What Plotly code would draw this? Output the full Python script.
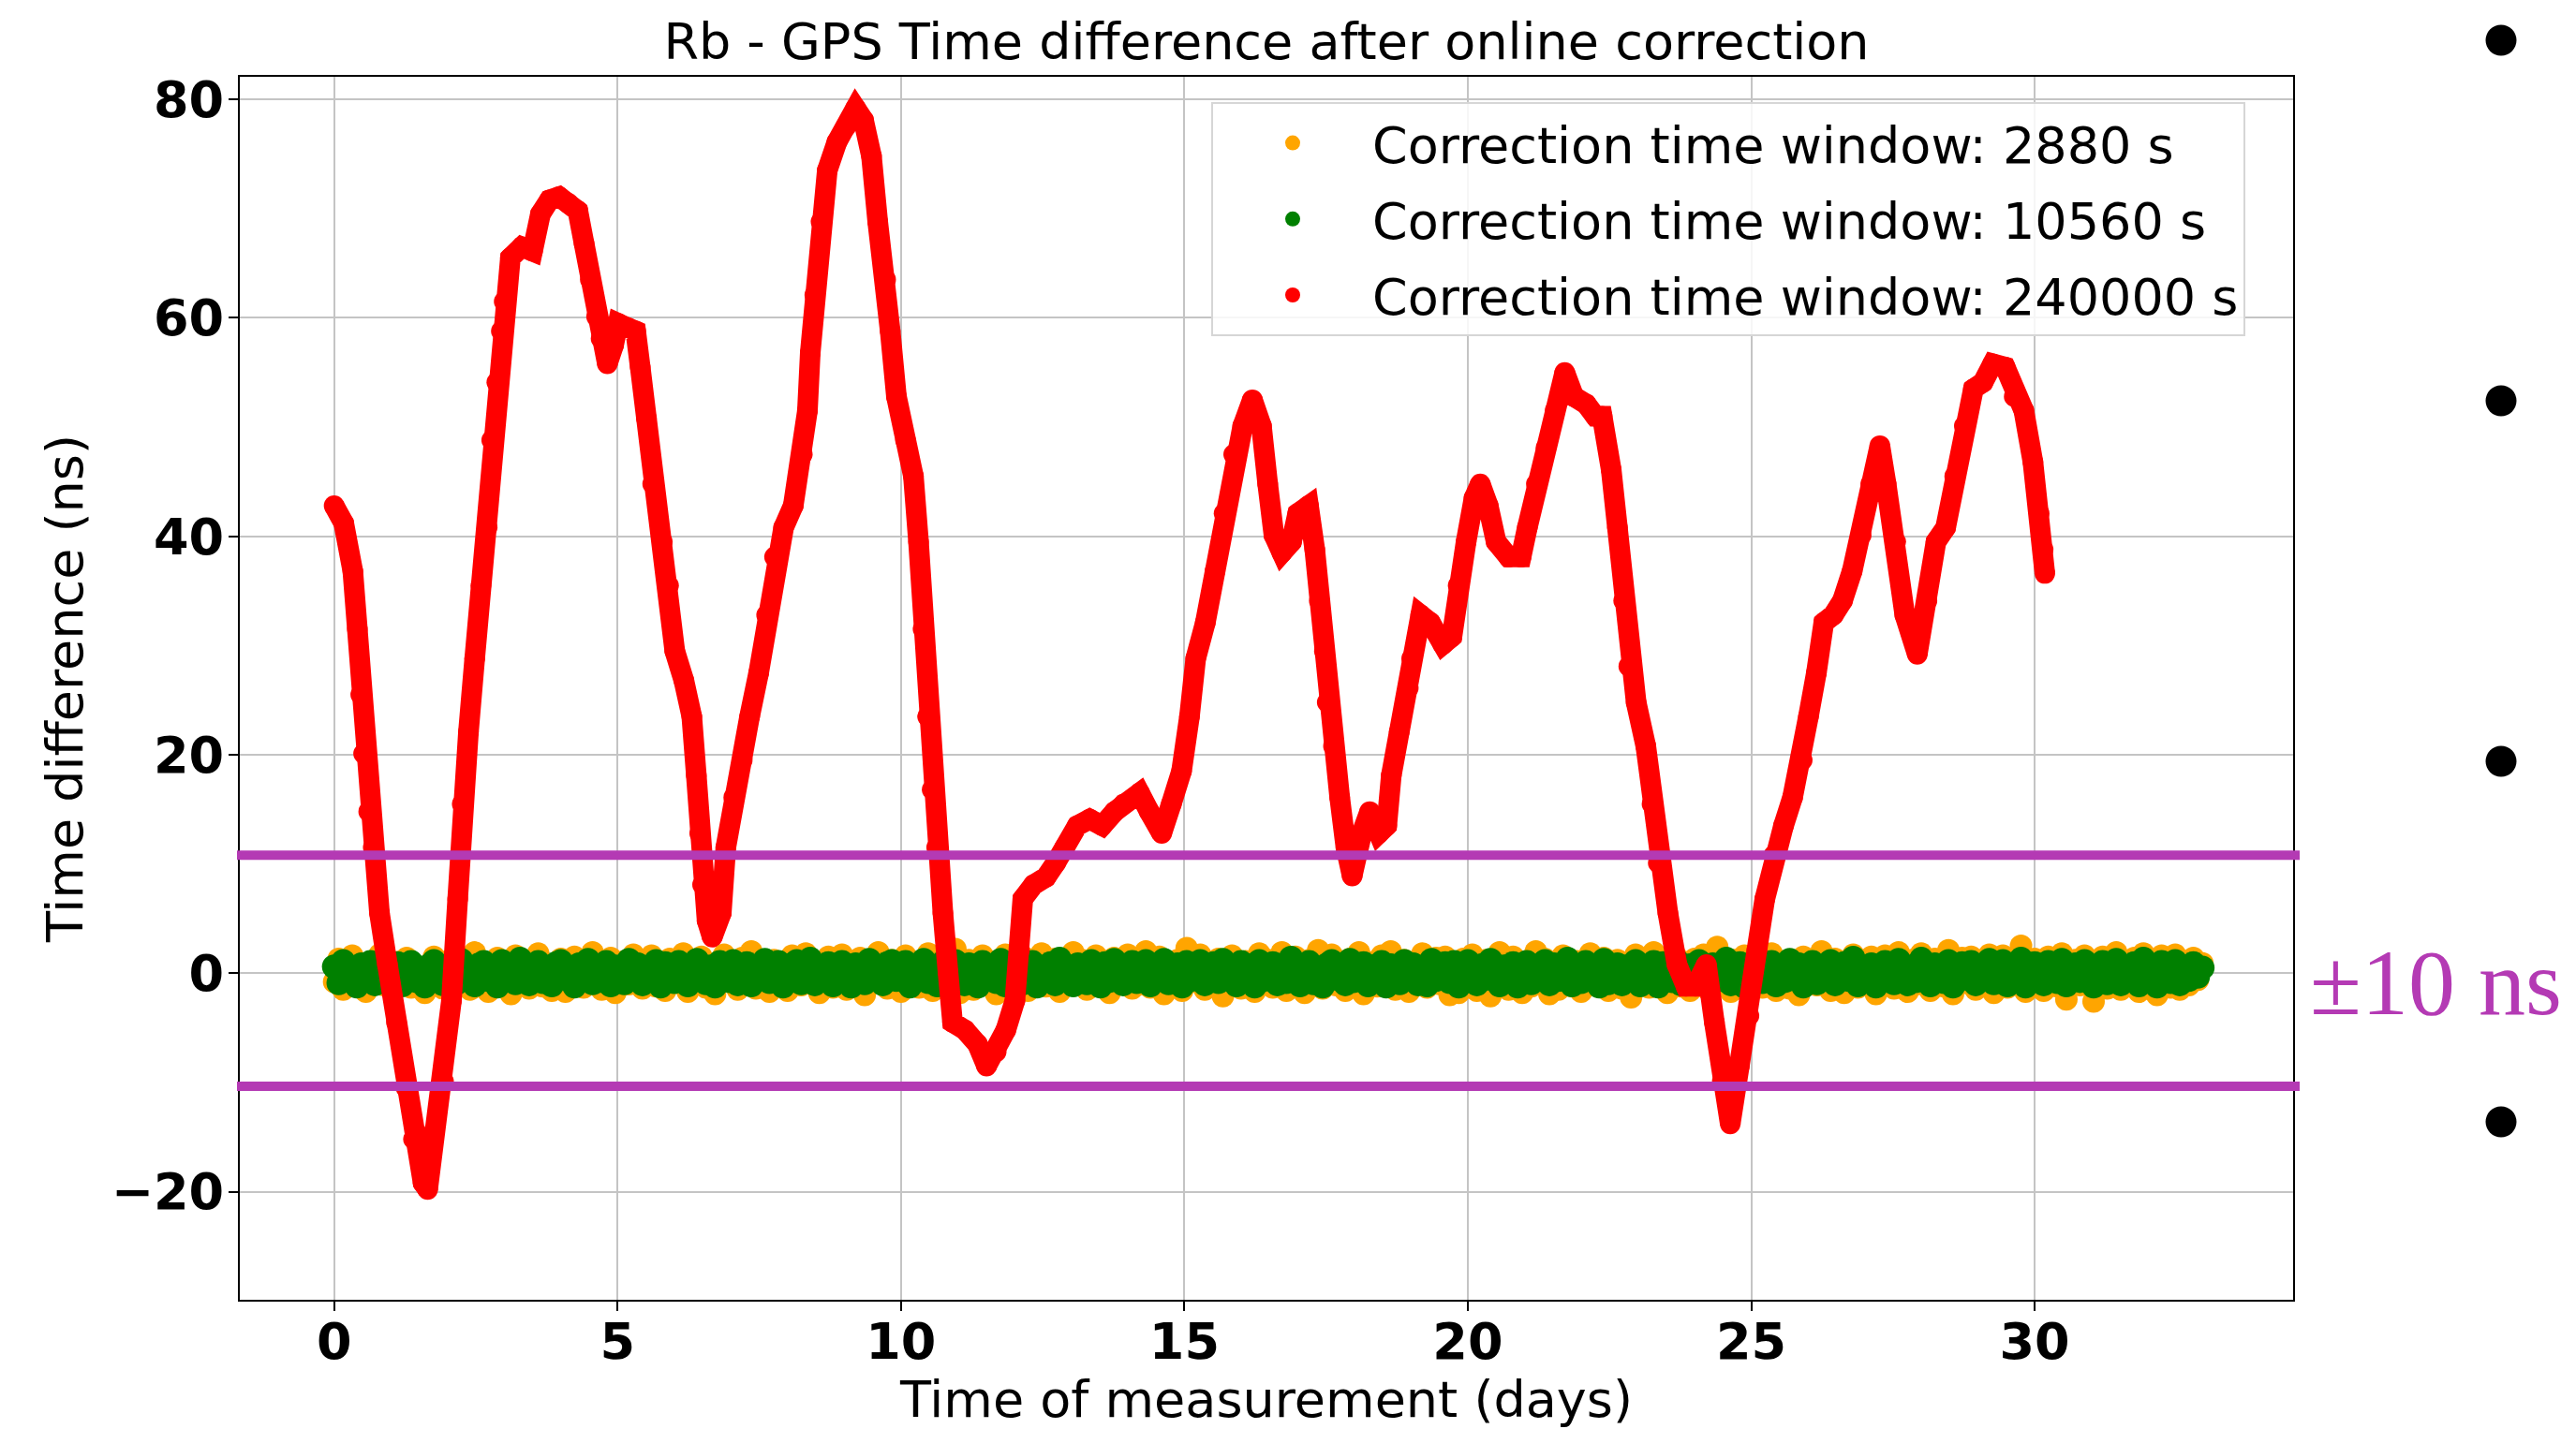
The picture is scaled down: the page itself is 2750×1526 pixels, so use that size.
import numpy as np
import plotly.graph_objects as go

# ---------------- data ----------------
series_names = [
    "Correction time window: 2880 s",
    "Correction time window: 10560 s",
    "Correction time window: 240000 s",
]
series_colors = ["#FFA500", "#008000", "#FF0000"]

# sampling grid of the two short-window series (days)
noise_days = np.round(np.arange(0, 413) * 0.08, 2)

orange_ns = [
    -0.8, 1.3, -1.5, 0.5, 1.6, -0.4, 0.9, -1.7, 0.3, 1.2,
    1.7, -1.1, 0.2, -1.5, 1.0, -0.6, 1.4, -1.3, 0.7, -0.9,
    -1.8, 0.8, 1.5, -0.5, -1.4, 1.1, 0.2, 1.7, -1.0, 0.4,
    -1.5, 1.9, -0.3, 1.0, -1.7, 0.6, 1.4, -0.9, 0.3, -1.9,
    1.6, -0.7, 1.1, -1.4, 0.5, 1.8, -1.2, 0.0, -1.6, 0.9,
    1.3, -1.7, 0.4, 1.5, -0.8, -1.3, 1.0, 1.9, -0.3, -1.5,
    0.7, 1.4, -1.8, 0.2, 1.1, -1.0, 1.7, -0.4, -1.4, 0.8,
    1.6, -1.2, 0.5, -1.6, 1.3, 0.1, -0.9, 1.8, -1.7, 1.0,
    -0.3, 1.5, -1.3, 0.6, -1.9, 1.1, 1.7, -0.6, 0.4, -1.5,
    1.4, -1.0, 2.0, -1.4, 0.3, 0.9, -1.7, 1.2, -0.5, 0.8,
    -1.6, 1.6, 0.0, -1.1, 1.8, -0.8, 1.0, -1.8, 0.5, 1.5,
    -1.3, 0.6, 1.7, -1.5, 1.1, -0.4, 1.4, -2.0, 0.8, 0.3,
    1.9, -0.9, -1.4, 1.2, 0.4, -1.7, 1.6, -0.6, 1.0, -1.3,
    0.5, 1.8, -1.6, 0.9, -0.3, 1.5, -1.1, 2.2, -1.8, 0.2,
    1.2, -1.5, 0.7, 1.6, -1.0, 0.4, -1.9, 1.1, 1.7, -0.5,
    -1.4, 1.0, 1.5, -1.6, 0.3, -0.8, 1.8, -1.2, 0.6, 1.3,
    -1.7, 0.9, 0.1, 1.9, -1.1, 1.2, -1.5, 0.5, 1.6, -0.9,
    1.1, -1.8, 1.4, -0.4, 0.8, 1.7, -1.4, 0.3, -1.0, 2.0,
    -1.3, 0.6, 1.5, -1.9, 1.0, -0.5, 1.2, -1.6, 2.3, -0.8,
    0.4, 1.7, -1.5, 0.9, -1.1, 1.3, -2.1, 0.7, 1.6, -0.6,
    -1.4, 1.1, 0.3, -1.7, 1.8, -0.9, 1.2, -1.3, 0.5, 1.9,
    -1.6, 0.8, 1.5, -1.0, -1.8, 1.2, 0.4, 2.1, -1.4, 0.9,
    1.7, -1.1, 0.6, -1.6, 1.3, -0.3, 1.9, -1.9, 1.0, 0.2,
    -1.2, 1.6, -0.7, 2.0, -1.5, 0.5, 1.2, -1.7, 0.9, -0.4,
    1.8, -1.3, 1.1, 1.4, -1.0, 1.5, -2.0, 0.7, -1.8, 1.3,
    -0.6, 1.7, -1.6, 0.4, 1.2, -2.1, 1.0, 1.9, -0.9, -1.5,
    1.5, 0.6, -1.8, 1.1, -1.2, 2.0, -0.5, 1.3, -1.9, 0.8,
    -1.5, 1.6, 0.5, -1.2, 1.1, -1.7, 0.9, 1.8, -1.1, 0.3,
    1.4, -1.6, 0.7, 1.2, -1.4, 0.6, -2.2, 1.7, -0.8, 1.0,
    -1.3, 1.9, -0.6, 1.1, -1.8, 0.4, 1.5, -1.2, 0.2, -1.6,
    1.3, -0.9, 1.7, -1.5, 0.8, 2.4, -1.0, 0.5, -1.7, 1.2,
    -0.4, 1.6, -1.9, 0.7, 1.4, -1.3, 0.3, 1.8, -1.6, 0.9,
    1.1, -1.4, 0.6, -2.0, 1.5, -0.7, 1.2, -1.1, 2.0, -0.5,
    -1.6, 1.3, 0.4, -1.8, 1.0, 1.7, -1.3, 0.8, -0.9, 1.5,
    -1.9, 1.1, 1.6, -0.6, -1.4, 1.9, 0.2, -1.7, 1.2, -1.0,
    1.8, -0.5, -1.6, 1.3, 0.7, -1.2, 2.1, -1.9, 0.6, 1.4,
    -0.9, 1.5, -1.5, 0.9, -0.4, 1.7, -1.8, 0.5, 1.6, -1.3,
    1.2, -1.0, 2.5, -1.7, 0.8, 1.3, -0.7, -1.6, 1.5, 0.4,
    -1.2, 1.8, -2.4, 0.6, 1.2, -1.1, 1.6, -0.5, -2.6, 1.0,
    1.5, -1.4, 0.5, 1.9, -1.5, 0.9, -0.8, 1.4, -1.7, 1.8,
    -0.7, 1.2, -2.0, 1.6, 0.3, -1.3, 1.7, -1.5, 1.0, -1.1,
    1.4, -0.6, 0.9,
]

green_ns = [
    0.6, -0.9, 1.1, -0.3, 0.2, -1.2, 0.8, -0.6, 1.0, -1.0,
    0.4, 1.2, -0.8, -0.2, 0.9, -1.1, 0.5, 1.0, -0.7, 0.1,
    -1.2, 0.7, 1.1, -0.5, -1.0, 0.3, 0.9, -0.9, 1.2, -0.4,
    0.0, -1.1, 0.8, 1.0, -0.6, 0.5, -1.2, 1.1, -0.2, 0.7,
    -0.9, 1.3, -0.4, -1.0, 0.6, 1.0, -0.8, 0.2, -1.1, 0.9,
    1.1, -0.5, 0.3, -1.2, 0.8, -0.1, 1.2, -0.9, 0.5, -0.7,
    1.0, -1.1, 0.6, 0.1, -0.9, 1.2, -0.3, 0.8, -1.0, 0.4,
    -0.6, 1.1, -1.2, 0.9, 0.2, -0.8, 1.0, -0.4, -1.1, 0.7,
    1.2, -0.2, -0.9, 0.6, -1.2, 1.0, 0.4, -0.7, 1.1, -1.0,
    0.3, 0.9, -1.1, 0.5, -0.3, 1.2, -0.8, 0.0, 1.0, -1.2,
    0.7, -0.5, 1.1, -0.9, 0.2, 1.3, -1.0, 0.6, -0.4, 0.9,
    -1.1, 0.4, 1.0, -0.7, -1.2, 0.8, 0.1, -0.9, 1.2, -0.3,
    0.5, -1.0, 0.9, 1.1, -0.6, -0.1, 1.0, -1.2, 0.7, -0.5,
    1.2, -0.8, 0.3, -1.1, 0.9, 0.6, -0.9, 1.1, -0.2, -1.0,
    0.8, 0.2, -1.2, 1.0, -0.5, 0.7, -0.8, 1.2, -1.1, 0.4,
    -0.3, 1.1, -0.9, 0.5, 1.0, -1.2, 0.2, -0.6, 0.9, -1.0,
    1.3, -0.4, 0.6, -1.1, 0.8, -0.2, -0.9, 1.1, 0.3, -1.2,
    0.9, -0.7, 1.2, 0.0, -1.0, 0.5, 1.0, -0.8, -0.3, 1.1,
    -1.1, 0.6, -0.4, 1.2, -0.9, 0.2, 0.8, -1.2, 1.0, -0.6,
    0.4, 1.1, -1.0, -0.2, 0.9, -0.8, 1.2, -0.5, 0.1, -1.1,
    1.0, -0.3, 0.7, -1.2, 1.1, -0.6, 0.3, 0.9, -1.0, 0.5,
    -0.8, 1.4, -0.1, -1.1, 0.6, 1.0, -0.9, 0.2, -1.2, 0.8,
    1.1, -0.5, 0.4, -1.0, 1.2, -0.7, 0.0, 0.9, -1.1, 0.6,
    -0.2, 1.0, -1.2, 0.7, 0.3, -0.9, 1.1, -0.4, 0.8, -1.0,
    0.5, -1.1, 1.2, -0.6, 0.1, 0.9, -0.8, 1.0, -1.2, 0.3,
    1.1, -0.3, -1.0, 0.7, -0.5, 1.2, 0.2, -1.1, 0.6, -0.7,
    0.9, -1.2, 0.4, 1.0, -0.9, 0.1, -0.4, 1.1, -1.0, 0.8,
    -0.6, 0.5, 1.3, -1.1, 0.2, -0.8, 1.0, -0.3, 0.7, -1.2,
    1.2, -0.9, 0.0, 0.8, -1.0, 0.6, -0.5, 1.1, -1.1, 0.3,
    -0.2, 1.0, -1.2, 0.9, 0.4, -0.7, 1.2, -1.0, 0.1, 0.7,
    -0.9, 1.1, -0.4, -1.1, 0.8, 0.2, -0.6, 1.3, -1.0, 0.5,
    0.9, -1.2, 0.6, -0.3, 1.1, -0.8, 0.0, 1.0, -1.1, 0.4,
    -0.7, 1.2, -0.5, 0.8, -1.2, 0.3, 1.0, -0.9, 0.6, -0.1,
    1.1, -1.0, 0.2, 0.9, -0.6, 1.4, -1.1, 0.5, -0.3, 0.8,
    -1.2, 0.7, 1.0, -0.4, -0.9, 1.2, 0.1, -1.0, 0.6, -0.7,
    1.3, -0.2, -1.1, 0.8, 0.4, -0.8, 1.1, -1.2, 0.3, 0.9,
    -0.5, 1.0, -1.0, 0.6, -0.1, 1.2, -0.9, 0.2, 1.1, -1.1,
    0.7, -0.6, 1.3, -1.2, 0.5, 0.9, -0.4, -1.0, 1.0, 0.1,
    -0.8, 1.2, -1.1, 0.4, 0.8, -0.7, 1.1, -0.2, -1.2, 0.6,
    1.0, -0.9, 0.3, 1.2, -1.0, 0.5, -0.5, 0.9, -1.1, 1.3,
    -0.4, 0.7, -1.2, 1.0, 0.2, -0.8, 1.1, -1.0, 0.6, -0.6,
    0.9, -0.3, 0.5,
]

red_days = [
    0.0, 0.17, 0.33, 0.41, 0.47, 0.52, 0.61, 0.69, 0.80, 0.94,
    1.10, 1.27, 1.40, 1.57, 1.65, 1.76, 1.93, 2.07, 2.18, 2.26,
    2.37, 2.48, 2.59, 2.70, 2.78, 2.87, 2.95, 3.00, 3.11, 3.31,
    3.50, 3.64, 3.80, 3.97, 4.13, 4.30, 4.41, 4.52, 4.63, 4.71,
    4.82, 4.93, 5.01, 5.18, 5.32, 5.40, 5.51, 5.62, 5.79, 5.90,
    6.01, 6.17, 6.31, 6.39, 6.45, 6.50, 6.58, 6.67, 6.83, 6.91,
    7.05, 7.20, 7.33, 7.49, 7.63, 7.77, 7.93, 8.10, 8.26, 8.35,
    8.40, 8.48, 8.59, 8.70, 8.87, 9.03, 9.20, 9.34, 9.48, 9.59,
    9.73, 9.81, 9.92, 10.08, 10.22, 10.31, 10.39, 10.47, 10.55, 10.63,
    10.74, 10.83, 10.91, 11.13, 11.35, 11.51, 11.68, 11.85, 12.01, 12.09,
    12.15, 12.34, 12.56, 12.73, 12.89, 13.11, 13.33, 13.55, 13.77, 13.93,
    14.21, 14.38, 14.60, 14.77, 14.95, 15.09, 15.20, 15.37, 15.54, 15.70,
    15.87, 16.03, 16.20, 16.36, 16.47, 16.58, 16.72, 16.89, 17.00, 17.19,
    17.30, 17.38, 17.47, 17.52, 17.63, 17.74, 17.85, 17.96, 18.13, 18.27,
    18.43, 18.57, 18.65, 18.79, 18.95, 19.01, 19.17, 19.34, 19.56, 19.72,
    19.83, 19.97, 20.11, 20.22, 20.36, 20.50, 20.72, 20.94, 21.05, 21.21,
    21.38, 21.54, 21.71, 21.87, 22.09, 22.25, 22.37, 22.53, 22.64, 22.75,
    22.84, 22.97, 23.14, 23.25, 23.36, 23.53, 23.69, 23.85, 24.02, 24.21,
    24.35, 24.49, 24.63, 24.79, 24.96, 25.10, 25.24, 25.40, 25.57, 25.73,
    25.90, 26.01, 26.15, 26.28, 26.45, 26.61, 26.78, 26.94, 27.11, 27.27,
    27.38, 27.55, 27.71, 27.93, 28.10, 28.26, 28.43, 28.59, 28.76, 28.92,
    29.09, 29.26, 29.48, 29.64, 29.81, 29.97, 30.08, 30.15, 30.18,
]
red_ns = [
    42.8, 41.2, 36.8, 31.5, 25.5, 20.1, 14.8, 11.5, 5.5, 0.8,
    -4.5, -10.5, -15.2, -19.2, -19.8, -14.5, -9.9, -2.5, 6.8, 15.5,
    22.1, 28.8, 35.5, 40.8, 48.8, 54.1, 58.8, 61.5, 65.5, 66.5,
    66.1, 69.5, 70.8, 71.1, 70.5, 69.8, 66.8, 63.5, 60.1, 58.1,
    55.8, 57.5, 59.5, 59.1, 58.8, 55.5, 50.8, 44.8, 39.5, 35.5,
    29.5, 26.8, 23.5, 18.1, 12.8, 8.1, 4.8, 3.3, 5.5, 11.5,
    16.1, 19.5, 23.5, 27.5, 32.8, 38.1, 40.8, 42.8, 47.5, 51.5,
    56.8, 62.1, 68.8, 73.5, 76.1, 77.5, 79.2, 78.1, 74.8, 68.8,
    63.5, 58.8, 52.8, 48.8, 45.5, 39.5, 31.5, 23.5, 16.8, 11.5,
    5.5, 0.1, -4.5, -5.2, -6.5, -8.5, -7.2, -5.2, -2.5, 2.1,
    6.8, 8.1, 8.8, 10.1, 11.5, 13.5, 14.1, 13.5, 14.8, 15.5,
    16.5, 14.8, 12.8, 15.5, 18.5, 23.5, 28.8, 32.1, 36.8, 42.1,
    47.5, 50.1, 52.5, 50.1, 44.8, 40.1, 38.5, 39.5, 42.1, 42.8,
    38.8, 34.1, 29.5, 24.8, 20.8, 16.1, 11.5, 8.9, 12.8, 14.8,
    12.8, 13.5, 18.1, 22.1, 26.1, 28.8, 32.8, 32.1, 30.1, 30.8,
    35.5, 39.5, 43.5, 44.8, 42.8, 39.5, 38.1, 38.1, 40.8, 44.8,
    48.1, 51.5, 55.0, 52.8, 52.1, 51.0, 51.0, 46.1, 40.8, 34.1,
    28.1, 24.8, 20.8, 15.5, 10.1, 5.5, 0.8, -1.2, -1.2, 0.8,
    -4.5, -9.9, -13.8, -8.5, -3.9, 2.1, 6.8, 10.8, 13.5, 16.1,
    19.5, 23.5, 27.5, 32.1, 32.8, 34.1, 36.8, 40.1, 44.8, 48.3,
    44.8, 39.5, 32.8, 29.2, 34.1, 39.5, 40.8, 45.5, 50.1, 53.5,
    54.1, 55.8, 55.5, 52.8, 51.5, 46.8, 42.1, 38.8, 36.6,
]

band_levels = [10.8, -10.35]          # the hand-drawn "±10 ns" guide lines
band_label = "±10 ns"

x_tickvals = [0, 5, 10, 15, 20, 25, 30]
x_ticktext = ["0", "5", "10", "15", "20", "25", "30"]
y_tickvals = [-20, 0, 20, 40, 60, 80]
y_ticktext = ["\u221220", "0", "20", "40", "60", "80"]

title_text = "Rb - GPS Time difference after online correction"
x_title = "Time of measurement (days)"
y_title = "Time difference (ns)"

# ---------------- layout geometry ----------------
# page (window) pixel targets; the page body adds an 8 px offset
OFF = 8
WIN_W, WIN_H = 2750, 1526
W, H = WIN_W - OFF, WIN_H - OFF
PL, PR, PT, PB = 256, 2448, 82, 1388      # plot area in page pixels
PW, PH = PR - PL, PB - PT


def px_x(p):
    return (p - PL) / PW


def px_y(p):
    return (PB - p) / PH


FONT = "DejaVu Sans"
PURPLE = "#B43AB4"
MS_ORANGE = 24
MS_GREEN = 26
MS_RED = 22

fig = go.Figure()

fig.add_trace(go.Scatter(
    x=noise_days, y=orange_ns, mode="markers", name=series_names[0],
    marker=dict(color=series_colors[0], size=MS_ORANGE, line=dict(width=0)),
    legendgroup="a",
))
fig.add_trace(go.Scatter(
    x=noise_days, y=green_ns, mode="markers", name=series_names[1],
    marker=dict(color=series_colors[1], size=MS_GREEN, line=dict(width=0)),
    legendgroup="b",
))
fig.add_trace(go.Scatter(
    x=red_days, y=red_ns, mode="lines", showlegend=False,
    line=dict(color=series_colors[2], width=MS_RED), hoverinfo="skip",
    legendgroup="c",
))
fig.add_trace(go.Scatter(
    x=red_days, y=red_ns, mode="markers", name=series_names[2],
    marker=dict(color=series_colors[2], size=MS_RED, line=dict(width=0)),
    legendgroup="c",
))

shapes = []
for lvl in band_levels:
    shapes.append(dict(
        type="line", xref="paper", yref="y",
        x0=px_x(253), x1=px_x(2455), y0=lvl, y1=lvl,
        line=dict(color=PURPLE, width=10), layer="above",
    ))

# slide bullet points on the right
for by in [43, 428, 813, 1198]:
    r = 16.5
    shapes.append(dict(
        type="circle", xref="paper", yref="paper",
        x0=px_x(2670 - r), x1=px_x(2670 + r),
        y0=px_y(by + r), y1=px_y(by - r),
        fillcolor="black", line=dict(width=0), layer="above",
    ))

annotations = [dict(
    text=band_label, xref="paper", yref="paper",
    x=px_x(2600), y=px_y(1049), xanchor="center", yanchor="middle",
    showarrow=False,
    font=dict(family="Liberation Serif", size=100, color=PURPLE),
)]

fig.update_layout(
    template="none",
    width=W, height=H,
    margin=dict(l=PL - OFF, r=W - (PR - OFF), t=PT - OFF, b=H - (PB - OFF),
                autoexpand=False),
    paper_bgcolor="white", plot_bgcolor="white",
    font=dict(family=FONT, color="black", size=54),
    title=dict(
        text=title_text, x=0.5, xref="paper", xanchor="center",
        y=1 - (44 - OFF) / H, yref="container", yanchor="middle",
        font=dict(family=FONT, size=54, color="black"),
    ),
    xaxis=dict(
        range=[-1.664, 34.56], tickvals=x_tickvals, ticktext=x_ticktext,
        showgrid=True, gridcolor="#c4c4c4", gridwidth=2,
        zeroline=False, showline=True, linecolor="black", linewidth=2,
        mirror=True, ticks="outside", ticklen=10, tickwidth=2,
        tickcolor="black", ticklabelstandoff=-14,
        tickfont=dict(family=FONT, size=54, color="black", weight="bold"),
        title=dict(text=x_title, standoff=26,
                   font=dict(family=FONT, size=54, color="black")),
        automargin=False,
    ),
    yaxis=dict(
        range=[-29.9, 82.07], tickvals=y_tickvals, ticktext=y_ticktext,
        showgrid=True, gridcolor="#c4c4c4", gridwidth=2,
        zeroline=False, showline=True, linecolor="black", linewidth=2,
        mirror=True, ticks="outside", ticklen=10, tickwidth=2,
        tickcolor="black", ticklabelstandoff=-6,
        tickfont=dict(family=FONT, size=54, color="black", weight="bold"),
        title=dict(text=y_title, standoff=13,
                   font=dict(family=FONT, size=54, color="black")),
        automargin=False,
    ),
    legend=dict(
        x=px_x(1293), y=px_y(109), xanchor="left", yanchor="top",
        bgcolor="rgba(255,255,255,0.85)", bordercolor="#d6d6d6",
        borderwidth=2, font=dict(family=FONT, size=54, color="black"),
        traceorder="grouped", tracegroupgap=8, itemwidth=160,
    ),
    shapes=shapes,
    annotations=annotations,
    showlegend=True,
)

fig.write_html("out.html")
